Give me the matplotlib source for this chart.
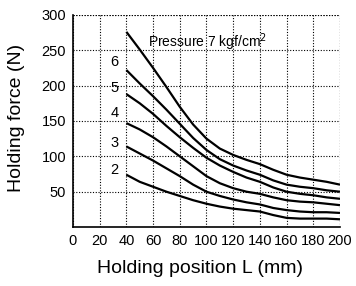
import matplotlib
matplotlib.use('Agg')
import matplotlib.pyplot as plt

plt.rcParams['font.family'] = ['Liberation Sans', 'DejaVu Sans']

# holding position (mm)
positions = [40, 50, 60, 70, 80, 90, 100, 110, 120, 130, 140, 150, 160, 170, 180, 190, 200]

# holding force (N) per pressure (kgf/cm2)
force_p7 = [276, 251, 225, 198, 170, 145, 125, 111, 102, 95, 89, 81, 74, 70, 67, 64, 60]
force_p6 = [222, 203, 185, 166, 146, 126, 109, 96, 87, 80, 74, 66, 60, 57, 55, 52, 50]
force_p5 = [188, 175, 160, 143, 127, 112, 98, 87, 78, 70, 64, 56, 50, 47, 45, 42, 40]
force_p4 = [147, 138, 127, 114, 100, 86, 72, 62, 55, 50, 47, 42, 38, 36, 35, 33, 31]
force_p3 = [114, 104, 94, 83, 72, 60, 50, 44, 39, 35, 32, 27, 24, 22, 21, 21, 20]
force_p2 = [74, 64, 57, 50, 44, 38, 33, 29, 26, 24, 22, 17, 13, 12, 12, 12, 11]

pressure_labels = ['6', '5', '4', '3', '2']
label_y = [234, 196, 161, 119, 81]

x_ticks = [0, 20, 40, 60, 80, 100, 120, 140, 160, 180, 200]
y_ticks = [50, 100, 150, 200, 250, 300]

fig = plt.figure(figsize=(3.56, 2.86), dpi=100)
ax = fig.add_axes([0.205, 0.206, 0.75, 0.742])

for ys in [force_p7, force_p6, force_p5, force_p4, force_p3, force_p2]:
    ax.plot(positions, ys, color='black', linewidth=1.6,
            solid_joinstyle='round', solid_capstyle='butt', zorder=3)

ax.set_xlim(0, 200)
ax.set_ylim(0, 300)
ax.set_xticks(x_ticks)
ax.set_yticks(y_ticks)
ax.tick_params(length=0, labelsize=10.5, pad=5)
dots = (0, (1, 1.5))
ax.grid(True, color='black', linestyle=dots, linewidth=0.8)

ax.spines['top'].set_visible(False)
ax.spines['right'].set_visible(False)
ax.spines['left'].set_linewidth(1.2)
ax.spines['bottom'].set_linewidth(1.2)
# dotted frame on top/right
ax.axhline(300, color='black', linestyle=dots, linewidth=0.8)
ax.axvline(200, color='black', linestyle=dots, linewidth=0.8)

for lab, yv in zip(pressure_labels, label_y):
    ax.text(31, yv, lab, fontsize=10.5, ha='center', va='center')
ax.text(56, 262, 'Pressure 7 kgf/cm$^2$', fontsize=10, ha='left', va='center')

ax.set_xlabel('Holding position L (mm)', fontsize=14, va='center')
ax.xaxis.set_label_coords(0.476, -0.193)
ax.set_ylabel('Holding force (N)', fontsize=14, va='center')
ax.yaxis.set_label_coords(-0.21, 0.516)

fig.savefig('out.png', dpi=100)
